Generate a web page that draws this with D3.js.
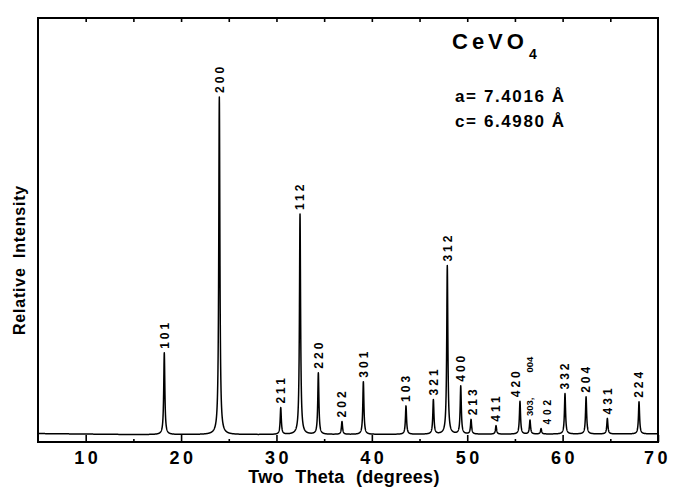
<!DOCTYPE html>
<html>
<head>
<meta charset="utf-8">
<script src="https://cdn.jsdelivr.net/npm/d3@7/dist/d3.min.js"></script>
<style>
  html, body { margin: 0; padding: 0; background: #fff; }
  svg { display: block; }
  text { font-family: "Liberation Sans", Arial, Helvetica, sans-serif; font-weight: bold; fill: #000; }
</style>
</head>
<body>
<svg id="chart" width="673" height="487"></svg>
<script>
// Powder X-ray diffraction pattern of CeVO4 (zircon type)
// Reflection positions (2θ, degrees), relative intensities (200 = 100) and Miller indices
const peakPos = [18.24, 24.01, 30.45, 32.47, 34.39, 36.87, 39.11, 43.58, 46.45, 47.91,
                 49.32, 50.40, 53.02, 55.53, 56.58, 57.74, 60.25, 62.46, 64.69, 68.01];
const peakInt = [24.2, 100, 7.9, 65.3, 18.2, 3.8, 15.6, 8.4, 10.2, 49.9,
                 14.2, 4.3, 2.5, 9.7, 4.1, 1.6, 12.0, 11.0, 4.6, 9.5];
const peakHkl = ["101", "200", "211", "112", "220", "202", "301", "103", "321", "312",
                 "400", "213", "411", "420", "303, 004", "402", "332", "204", "431", "224"];

// Background level under the pattern
const bgAngle = [5, 15, 30, 50, 70];
const bgLevel = [2.5, 2.2, 2.2, 2.3, 2.4];

// Axis ticks
const majorTicks = [10, 20, 30, 40, 50, 60, 70];
const minorTicks = [15, 25, 35, 45, 55, 65];
const topTicks = [10, 15, 20, 25, 30, 35, 40, 45, 50, 55, 60, 65];

const svg = d3.select("#chart");
const frame = { left: 38, right: 658, top: 18, bottom: 442 };

const x = d3.scaleLinear().domain([5, 70]).range([frame.left, frame.right]);
const y = d3.scaleLinear().domain([0, 125.6]).range([frame.bottom, frame.top]);
const bg = d3.scaleLinear().domain(bgAngle).range(bgLevel);

// Lorentzian line shape for each reflection
const fwhm = 0.14;
function peakShape(t, center, height) {
  const u = (t - center) / (fwhm / 2);
  return height / (1 + u * u);
}
function pattern(t) {
  let v = bg(t);
  for (let i = 0; i < peakPos.length; i++) v += peakShape(t, peakPos[i], peakInt[i]);
  return v;
}

// Sample the profile on a fine 2θ grid, plus the exact reflection positions
const grid = d3.range(5, 70.0001, 0.01).concat(peakPos).sort(d3.ascending);
const trace = grid.map(t => [t, pattern(t)]);

const g = svg.append("g");

g.append("path")
  .datum(trace)
  .attr("fill", "none")
  .attr("stroke", "#000")
  .attr("stroke-width", 1.5)
  .attr("stroke-linejoin", "round")
  .attr("d", d3.line().x(d => x(d[0])).y(d => y(d[1])));

// Frame
g.append("rect")
  .attr("x", frame.left).attr("y", frame.top)
  .attr("width", frame.right - frame.left)
  .attr("height", frame.bottom - frame.top)
  .attr("fill", "none").attr("stroke", "#000").attr("stroke-width", 2);

// Bottom axis: inward ticks and labels
const xAxis = d3.axisBottom(x).tickValues(majorTicks).tickSize(-7).tickFormat(d3.format("d"));
const ax = g.append("g").attr("transform", `translate(0,${frame.bottom})`).call(xAxis);
ax.select(".domain").remove();
ax.selectAll(".tick line").attr("stroke", "#000").attr("stroke-width", 1.6);
ax.selectAll(".tick text")
  .attr("font-size", 18).attr("letter-spacing", "3.5px")
  .attr("dx", 1.5).attr("dy", 0).attr("y", 22)
  .style("font-family", "'Liberation Sans', Arial, sans-serif").style("font-weight", "bold");
ax.selectAll(".tick").filter(d => d === 70).select("text").attr("dx", -1);

const minorAxis = d3.axisBottom(x).tickValues(minorTicks).tickSize(-3).tickFormat("");
const mx = g.append("g").attr("transform", `translate(0,${frame.bottom})`).call(minorAxis);
mx.select(".domain").remove();
mx.selectAll(".tick line").attr("stroke", "#000").attr("stroke-width", 1.6);

// Top axis: short inward ticks
const topAxis = d3.axisTop(x).tickValues(topTicks).tickSize(-4).tickFormat("");
const tx = g.append("g").attr("transform", `translate(0,${frame.top})`).call(topAxis);
tx.select(".domain").remove();
tx.selectAll(".tick line").attr("stroke", "#000").attr("stroke-width", 1.6);

// Axis titles
g.append("text")
  .attr("x", 344).attr("y", 483)
  .attr("text-anchor", "middle")
  .attr("font-size", 18).attr("word-spacing", "6px").attr("letter-spacing", "0.3px")
  .text("Two Theta (degrees)");

g.append("text")
  .attr("transform", "translate(25,260) rotate(-90)")
  .attr("text-anchor", "middle")
  .attr("font-size", 16).attr("letter-spacing", "0.8px").attr("word-spacing", "4px")
  .text("Relative Intensity");

// Reflection labels, read upward above each peak
const labelNudge = { "420": [-4, 0], "213": [2, 0], "402": [6, 0] };
const labels = g.append("g");
peakHkl.forEach((hkl, i) => {
  const [dx, dy] = labelNudge[hkl] || [0, 0];
  const px = x(peakPos[i]) + dx;
  const py = y(pattern(peakPos[i])) - 4 + dy;
  if (hkl === "303, 004") {
    const t = labels.append("text")
      .attr("transform", `translate(${px + 3.5},${py}) rotate(-90)`)
      .attr("font-size", 9.5);
    t.append("tspan").text("303,");
    t.append("tspan").attr("dx", 25).text("004");
  } else if (hkl === "402") {
    labels.append("text")
      .attr("transform", `translate(${px + 3.5},${py}) rotate(-90)`)
      .attr("font-size", 10).attr("letter-spacing", "4px")
      .text(hkl);
  } else {
    labels.append("text")
      .attr("transform", `translate(${px + 4.3},${py}) rotate(-90)`)
      .attr("font-size", 12).attr("letter-spacing", "3px")
      .text(hkl);
  }
});

// Compound and lattice parameters
g.append("text").attr("x", 452).attr("y", 48.5).attr("font-size", 22).attr("letter-spacing", "4px")
  .text("CeVO");
g.append("text").attr("x", 529).attr("y", 59).attr("font-size", 14)
  .text("4");

g.append("text").attr("x", 455).attr("y", 101.5).attr("font-size", 17).attr("letter-spacing", "1.6px")
  .text("a= 7.4016 Å");
g.append("text").attr("x", 455).attr("y", 127).attr("font-size", 17).attr("letter-spacing", "1.6px")
  .text("c= 6.4980 Å");
</script>
</body>
</html>
